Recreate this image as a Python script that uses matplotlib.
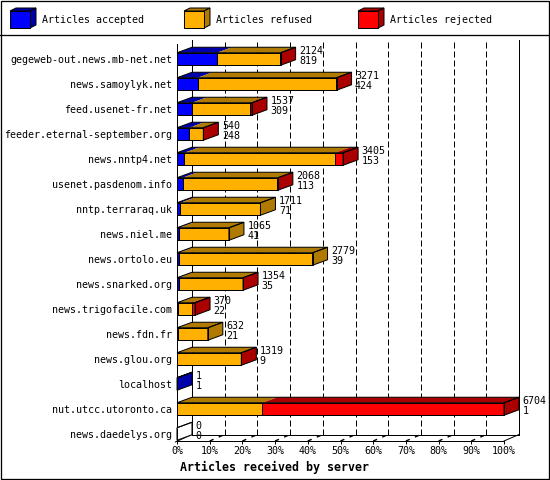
import matplotlib
matplotlib.use("Agg")
import matplotlib.pyplot as plt
from matplotlib.patches import Polygon, Rectangle

# ---------------- data ----------------
servers = ["gegeweb-out.news.mb-net.net", "news.samoylyk.net", "feed.usenet-fr.net",
           "feeder.eternal-september.org", "news.nntp4.net", "usenet.pasdenom.info",
           "nntp.terraraq.uk", "news.niel.me", "news.ortolo.eu", "news.snarked.org",
           "news.trigofacile.com", "news.fdn.fr", "news.glou.org", "localhost",
           "nut.utcc.utoronto.ca", "news.daedelys.org"]
totals   = [2124, 3271, 1537, 540, 3405, 2068, 1711, 1065, 2779, 1354, 370, 632, 1319, 1, 6704, 0]
accepted = [819, 424, 309, 248, 153, 113, 71, 41, 39, 35, 22, 21, 9, 1, 1, 0]
refused  = [1295, 2832, 1181, 287, 3090, 1945, 1640, 1024, 2740, 1310, 280, 611, 1305, 0, 1751, 0]
rejected = [10, 15, 47, 5, 162, 10, 0, 0, 0, 9, 68, 0, 5, 0, 4952, 0]
series_names = ["Articles accepted", "Articles refused", "Articles rejected"]
xtick_values = [0, 10, 20, 30, 40, 50, 60, 70, 80, 90, 100]
xlabel_text = "Articles received by server"

# ---------------- style ----------------
front_colors = ["#0000ff", "#ffb000", "#ff0000"]
dark_colors = ["#0000aa", "#b07a00", "#aa0000"]
MONO = "DejaVu Sans Mono"
FS = 7.2
LW = 0.72
PX = 0.72  # points per pixel at 100 dpi

W, H = 550, 480
fig = plt.figure(figsize=(W / 100, H / 100), dpi=100)
fig.patch.set_facecolor("white")

# overlay in pixel coords for frame / legend
lax = fig.add_axes([0, 0, 1, 1], zorder=0)
lax.set_xlim(0, W)
lax.set_ylim(H, 0)
lax.axis("off")

# figure border and legend separator
lax.add_patch(Rectangle((0.5, 0.5), W - 1.5, H - 1.5, fill=False, ec="black", lw=LW * 1.3))
lax.plot([0, W], [35, 35], color="black", lw=LW * 1.3)

# legend cubes
leg_x0, leg_step = 10, 174
cw, ch, cdx, cdy, ctop = 20, 17, 6, 3, 11
for k, name in enumerate(series_names):
    x = leg_x0 + k * leg_step
    top = Polygon([(x, ctop), (x + cw, ctop), (x + cw + cdx, ctop - cdy), (x + cdx, ctop - cdy)],
                  closed=True, fc=dark_colors[k], ec="black", lw=LW)
    side = Polygon([(x + cw, ctop), (x + cw + cdx, ctop - cdy), (x + cw + cdx, ctop + ch - cdy),
                    (x + cw, ctop + ch)], closed=True, fc=dark_colors[k], ec="black", lw=LW)
    front = Rectangle((x, ctop), cw, ch, fc=front_colors[k], ec="black", lw=LW)
    for p in (top, side, front):
        lax.add_patch(p)
    lax.text(x + 32, 20, name, family=MONO, fontsize=FS, va="center", ha="left")

# ---------------- main axes ----------------
ax_left, ax_right, ax_top, ax_bot = 177, 504, 44, 441
ax = fig.add_axes([ax_left / W, (H - ax_bot) / H, (ax_right - ax_left) / W, (ax_bot - ax_top) / H],
                  zorder=2)
ax.patch.set_facecolor("none")
row_px = 25.0
first_row_px = 59
ax.set_xlim(0, 100)
ax.set_ylim((ax_bot - first_row_px) / row_px, -(first_row_px - ax_top) / row_px)
ymax_front = (ax_bot - first_row_px) / row_px

px_x = 100.0 / (ax_right - ax_left)  # data units per pixel in x
DX = 15 * px_x
BAR_DY = 5.5 / row_px
FLOOR_DY = 6.5 / row_px
BAR_H = 12.5 / row_px
back_floor = ymax_front - FLOOR_DY
back_top = -(first_row_px - 40) / row_px

for s in ("top", "right"):
    ax.spines[s].set_visible(False)
for s in ("left", "bottom"):
    ax.spines[s].set_linewidth(LW)

# back walls and floor
ax.plot([DX, DX], [back_floor, back_top], color="black", lw=LW, clip_on=False, zorder=1)
ax.plot([100 + DX, 100 + DX], [back_floor, back_top], color="black", lw=LW, clip_on=False, zorder=1)
ax.plot([DX, 100 + DX], [back_floor, back_floor], color="black", lw=LW, clip_on=False, zorder=1)
ax.plot([0 - 0.5, DX], [ymax_front + 0.04, back_floor], color="black", lw=LW, clip_on=False, zorder=1)
ax.plot([100, 100 + DX], [ymax_front, back_floor], color="black", lw=LW, clip_on=False, zorder=1)
for v in xtick_values[1:-1]:
    ax.plot([v + DX, v + DX], [back_floor, back_top], color="black", lw=LW,
            dashes=(6, 3), clip_on=False, zorder=1)
    ax.plot([v, v + DX], [ymax_front, back_floor], color="black", lw=LW * 1.4,
            dashes=(3, 4), clip_on=False, zorder=1)

# bars
maxtot = max(totals)
for i in range(len(servers)):
    vals = [accepted[i], refused[i], rejected[i]]
    t = i - BAR_H / 2
    b = i + BAR_H / 2
    cum = 0.0
    last = None
    for k, v in enumerate(vals):
        w = v / maxtot * 100
        if v > 0:
            ax.add_patch(Polygon([(cum, t), (cum + w, t), (cum + w + DX, t - BAR_DY), (cum + DX, t - BAR_DY)],
                                 closed=True, fc=dark_colors[k], ec="none", clip_on=False, zorder=3))
            ax.add_patch(Rectangle((cum, t), w, BAR_H, fc=front_colors[k], ec="black", lw=LW,
                                   clip_on=False, zorder=4))
            last = k
        cum += w
    T = cum
    side_fc = dark_colors[last] if last is not None else "white"
    ax.add_patch(Polygon([(T, t), (T + DX, t - BAR_DY), (T + DX, b - BAR_DY), (T, b)],
                         closed=True, fc=side_fc, ec="black", lw=LW, clip_on=False, zorder=4))
    ax.add_patch(Polygon([(0, t), (T, t), (T + DX, t - BAR_DY), (DX, t - BAR_DY)],
                         closed=True, fc="none", ec="black", lw=LW, clip_on=False, zorder=5))
    ax.add_patch(Rectangle((0, t), T, BAR_H, fc="none", ec="black", lw=LW, clip_on=False, zorder=5))
    ax.annotate(str(totals[i]), xy=(T, i), xytext=(18.5 * PX, 8.5 * PX), textcoords="offset points",
                family=MONO, fontsize=FS, ha="left", va="center", annotation_clip=False, zorder=6)
    ax.annotate(str(accepted[i]), xy=(T, i), xytext=(18.5 * PX, -2.0 * PX), textcoords="offset points",
                family=MONO, fontsize=FS, ha="left", va="center", annotation_clip=False, zorder=6)

# ticks and labels
ax.set_yticks(range(len(servers)))
ax.set_yticklabels(servers, family=MONO, fontsize=FS)
ax.tick_params(axis="y", length=0, pad=5 * PX)
ax.set_xticks(xtick_values)
ax.set_xticklabels([f"{v}%" for v in xtick_values], family=MONO, fontsize=FS)
ax.tick_params(axis="x", length=3 * PX, width=LW, pad=2.5 * PX, direction="out")

ax.set_xlabel(xlabel_text, family=MONO, fontsize=8.35, fontweight="bold", loc="left")
ax.xaxis.label.set_va("center")
ax.xaxis.set_label_coords(3 / (ax_right - ax_left), -(467 - ax_bot) / (ax_bot - ax_top))

fig.savefig("out.png", dpi=100, facecolor="white")
